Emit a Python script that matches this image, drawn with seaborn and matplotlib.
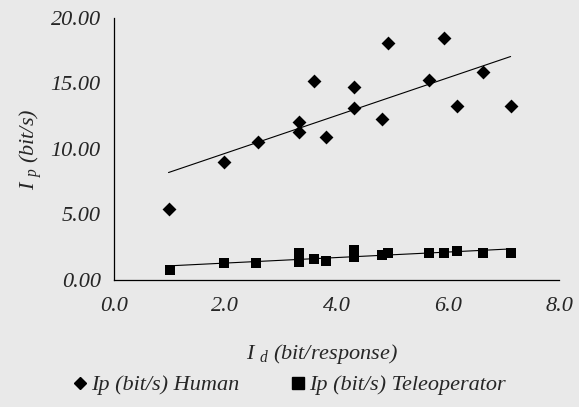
import matplotlib
matplotlib.use("Agg")
import matplotlib.pyplot as plt
import seaborn as sns
import pandas as pd
from matplotlib.lines import Line2D

# Data
id_human = [0.98, 1.97, 2.58, 3.33, 3.33, 3.59, 3.82, 4.32, 4.32, 4.82, 4.93, 5.67, 5.94, 6.16, 6.64, 7.13]
ip_human = [5.40, 8.98, 10.56, 12.08, 11.30, 15.14, 10.92, 14.68, 13.08, 12.27, 18.07, 15.27, 18.47, 13.23, 15.88, 13.23]

id_tele = [1.00, 1.97, 2.55, 3.33, 3.33, 3.59, 3.82, 4.32, 4.32, 4.82, 4.93, 5.67, 5.94, 6.16, 6.64, 7.13]
ip_tele = [0.76, 1.30, 1.30, 2.04, 1.40, 1.63, 1.47, 2.29, 1.78, 1.93, 2.08, 2.08, 2.08, 2.24, 2.08, 2.08]

x_ticks = [0, 2, 4, 6, 8]
x_tick_labels = ["0.0", "2.0", "4.0", "6.0", "8.0"]
y_ticks = [0, 5, 10, 15, 20]
y_tick_labels = ["0.00", "5.00", "10.00", "15.00", "20.00"]

human_label = "Ip (bit/s) Human"
tele_label = "Ip (bit/s) Teleoperator"

df_h = pd.DataFrame({"Id": id_human, "Ip": ip_human})
df_t = pd.DataFrame({"Id": id_tele, "Ip": ip_tele})

sns.set_style("white")
plt.rcParams["font.family"] = ["Liberation Serif", "DejaVu Serif"]
plt.rcParams["mathtext.fontset"] = "custom"
plt.rcParams["mathtext.it"] = "Liberation Serif:italic"
plt.rcParams["mathtext.rm"] = "Liberation Serif:italic"
bg = "#e9e9e9"
fs = 16

fig = plt.figure(figsize=(5.79, 4.07), dpi=100, facecolor=bg)
ax = fig.add_axes([114 / 579, 1 - 280 / 407, (559 - 114) / 579, (280 - 17.7) / 407])
ax.set_facecolor(bg)

sns.regplot(data=df_h, x="Id", y="Ip", scatter=False, ci=None, truncate=True,
            color="black", line_kws={"lw": 0.8}, ax=ax)
sns.regplot(data=df_t, x="Id", y="Ip", scatter=False, ci=None, truncate=True,
            color="black", line_kws={"lw": 0.8}, ax=ax)
sns.scatterplot(data=df_h, x="Id", y="Ip", marker="D", s=50, color="black",
                edgecolor="black", linewidth=0, ax=ax, zorder=3)
sns.scatterplot(data=df_t, x="Id", y="Ip", marker="s", s=60, color="black",
                edgecolor="black", linewidth=0, ax=ax, zorder=3)

ax.set_xlim(0, 8)
ax.set_ylim(0, 20)
ax.set_xticks(x_ticks)
ax.set_xticklabels(x_tick_labels, fontsize=fs, style="italic")
ax.set_yticks(y_ticks)
ax.set_yticklabels(y_tick_labels, fontsize=fs, style="italic")
ax.tick_params(axis="both", direction="inout", length=7, width=0.8, color="black")
ax.tick_params(axis="x", pad=9)
ax.tick_params(axis="y", pad=6)
for s in ["top", "right"]:
    ax.spines[s].set_visible(False)
for s in ["left", "bottom"]:
    ax.spines[s].set_color("black")
    ax.spines[s].set_linewidth(0.9)

ax.set_xlabel(r"$I$ $_{d}$ (bit/response)", fontsize=fs, style="italic")
ax.xaxis.set_label_coords((322 - 114) / 445, -0.235)
ax.set_ylabel(r"$I$ $_{p}$ (bit/s)", fontsize=fs, style="italic", labelpad=5)

handles = [
    Line2D([], [], marker="D", color="black", linestyle="none", markersize=6),
    Line2D([], [], marker="s", color="black", linestyle="none", markersize=8),
]
leg = fig.legend(handles, [human_label, tele_label], loc="center", ncol=2,
                 bbox_to_anchor=(0.50, 1 - 385 / 407), frameon=False,
                 prop={"size": fs, "style": "italic"}, columnspacing=2.3,
                 handletextpad=0.2, handlelength=0.6)

fig.savefig("out.png", dpi=100, facecolor=bg)
